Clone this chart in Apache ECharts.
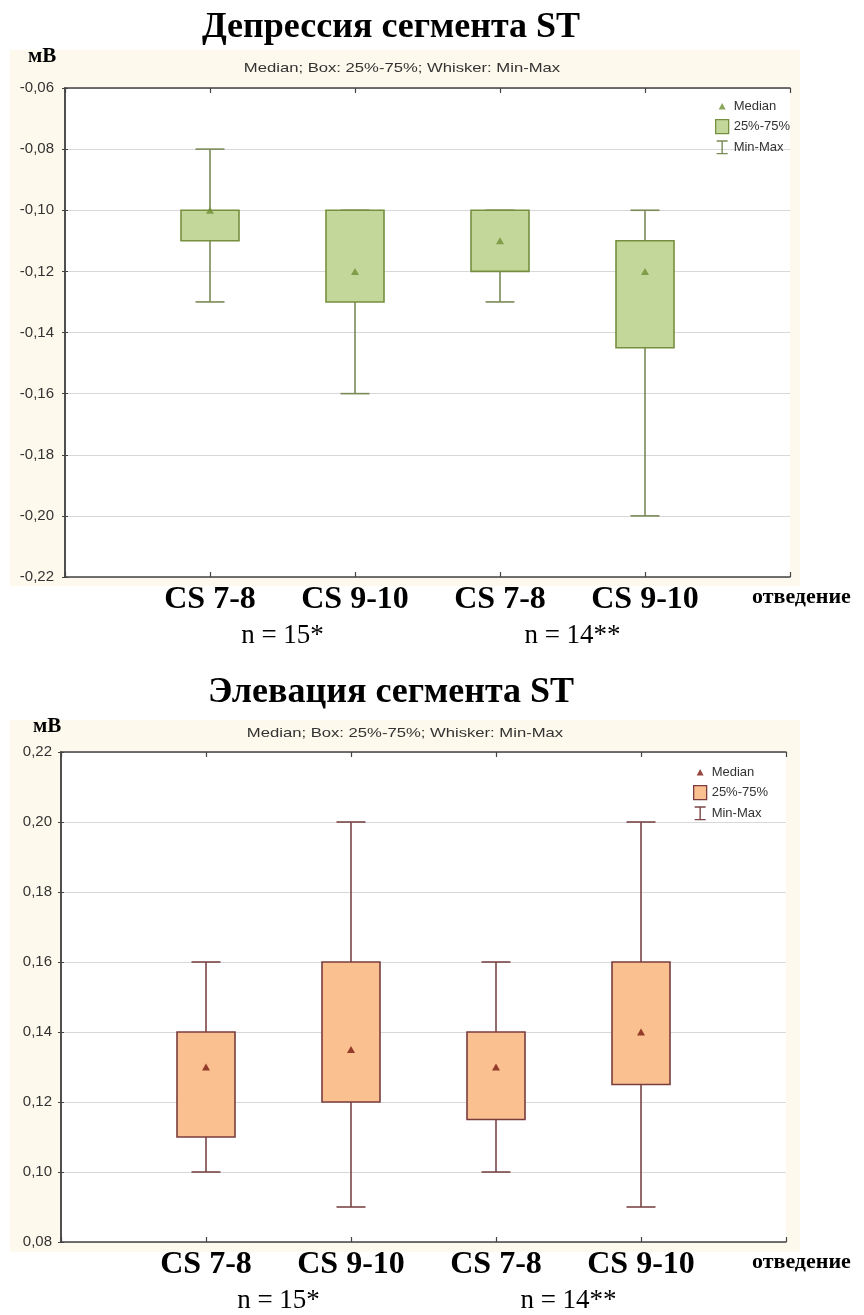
<!DOCTYPE html>
<html>
<head>
<meta charset="utf-8">
<script src="https://cdn.jsdelivr.net/npm/echarts@6/dist/echarts.min.js"></script>
<style>
  html, body { margin: 0; padding: 0; background: #fff; }
  #dep { position: absolute; left: 0; top: 0; width: 864px; height: 655px; }
  #elev { position: absolute; left: 0; top: 655px; width: 864px; height: 660px; }
</style>
</head>
<body>
<div id="dep"></div>
<div id="elev"></div>
<script>
// Leads (x-axis categories) and patient-group captions
const leads = ['CS 7-8', 'CS 9-10', 'CS 7-8', 'CS 9-10'];
const groupLabels = ['n = 15*', 'n = 14**'];

// ST depression, mV
const depMin    = [-0.13, -0.16, -0.13, -0.20];
const depQ1     = [-0.11, -0.13, -0.12, -0.145];
const depMedian = [-0.10, -0.12, -0.11, -0.12];
const depQ3     = [-0.10, -0.10, -0.10, -0.11];
const depMax    = [-0.08, -0.10, -0.10, -0.10];

// ST elevation, mV
const elevMin    = [0.10, 0.09, 0.10, 0.09];
const elevQ1     = [0.11, 0.12, 0.115, 0.125];
const elevMedian = [0.13, 0.135, 0.13, 0.14];
const elevQ3     = [0.14, 0.16, 0.14, 0.16];
const elevMax    = [0.16, 0.20, 0.16, 0.20];

const SERIF = '"Liberation Serif", "Times New Roman", serif';
const SANS = '"Liberation Sans", Arial, sans-serif';
const AXIS_COLOR = '#444444';

const triIcon = 'path://M0,0M13,14M3,10.5L6.5,4L10,10.5Z';
const ibeamIcon = 'path://M0,0M13,14M1,0H12V1.4H7.2V12.6H12V14H1V12.6H5.8V1.4H1Z';

function fmtY(v) { return v.toFixed(2).replace('.', ','); }

function buildOption(c) {
  const whiskers = c.min.map((v, i) => [i + 1, v, c.max[i]]);
  const boxes = c.q1.map((v, i) => [i + 1, v, c.q3[i]]);
  const medians = c.median.map((v, i) => [i + 1, v]);
  const g = c.grid;

  const xBase = {
    type: 'value', min: 0, max: 5, interval: 1, gridIndex: 0,
    splitLine: { show: false },
    axisLine: { show: true, lineStyle: { color: AXIS_COLOR, width: 1.5 } },
    axisTick: { show: true, inside: true, length: 5, lineStyle: { color: AXIS_COLOR, width: 1.2 } }
  };
  const yBase = {
    type: 'value', min: c.yMin, max: c.yMax, interval: 0.02, gridIndex: 0,
    axisLine: { show: true, lineStyle: { color: AXIS_COLOR, width: 1.5 } },
    axisTick: { show: true, inside: true, length: 3, lineStyle: { color: AXIS_COLOR } }
  };

  return {
    animation: false,
    grid: {
      left: g.left, top: g.top, width: g.width, height: g.height,
      show: true, backgroundColor: '#ffffff', borderWidth: 0
    },
    xAxis: [
      Object.assign({}, xBase, {
        position: 'bottom',
        axisLabel: {
          margin: 7, color: '#000', fontFamily: SERIF, fontWeight: 'bold', fontSize: 32,
          formatter: v => leads[v - 1] || ''
        }
      }),
      Object.assign({}, xBase, { position: 'top', axisLabel: { show: false } }),
      {
        type: 'value', min: 0, max: 5, interval: 0.5, gridIndex: 0,
        position: 'bottom', offset: 37,
        axisLine: { show: false }, axisTick: { show: false }, splitLine: { show: false },
        axisLabel: {
          margin: 8, color: '#000', fontFamily: SERIF, fontSize: 27,
          formatter: v => (v === 1.5 ? groupLabels[0] : v === 3.5 ? groupLabels[1] : '')
        }
      }
    ],
    yAxis: [
      Object.assign({}, yBase, {
        position: 'left',
        splitLine: { show: true, lineStyle: { color: '#d8d8d8', width: 1.2 } },
        axisLabel: { margin: c.yLabelMargin, color: '#333', fontFamily: SANS, fontSize: 15, formatter: fmtY }
      }),
      Object.assign({}, yBase, { position: 'right', splitLine: { show: false }, axisLabel: { show: false } })
    ],
    legend: {
      orient: 'vertical', left: c.legend.left, top: c.legend.top,
      itemWidth: 13, itemHeight: 14, itemGap: 6, selectedMode: false,
      textStyle: { fontFamily: SANS, fontSize: 13, color: '#333' },
      data: [
        { name: 'Median', icon: triIcon, itemStyle: { color: c.medianColor } },
        { name: '25%-75%', icon: 'rect', itemStyle: { color: c.fill, borderColor: c.stroke, borderWidth: 1.3 } },
        { name: 'Min-Max', icon: ibeamIcon, itemStyle: { color: c.whisker } }
      ]
    },
    graphic: [
      { type: 'rect', z: -5, shape: { x: 10, y: c.creamTop, width: 790, height: c.creamHeight },
        style: { fill: '#fdf9ec' } },
      { type: 'text', x: 391, y: c.titleY,
        style: { text: c.title, font: 'bold 36px ' + SERIF, fill: '#000', align: 'center', verticalAlign: 'middle' } },
      { type: 'text', x: c.unitX, y: c.unitY,
        style: { text: 'мВ', font: 'bold 21px ' + SERIF, fill: '#000', align: 'left', verticalAlign: 'middle' } },
      { type: 'text', x: c.subX, y: c.subY, scaleX: 1.28,
        style: { text: 'Median; Box: 25%-75%; Whisker: Min-Max', font: '13px ' + SANS, fill: '#333',
                 align: 'center', verticalAlign: 'middle' } },
      { type: 'text', x: 752, y: c.leadY,
        style: { text: 'отведение', font: 'bold 22px ' + SERIF, fill: '#000', align: 'left', verticalAlign: 'middle' } }
    ],
    series: [
      {
        name: 'Min-Max', type: 'custom', z: 2,
        xAxisIndex: 0, yAxisIndex: 0,
        itemStyle: { color: c.whisker },
        encode: { x: 0, y: [1, 2] },
        data: whiskers,
        renderItem: function (params, api) {
          const x = api.value(0);
          const lo = api.coord([x, api.value(1)]);
          const hi = api.coord([x, api.value(2)]);
          const half = api.size([0.2, 0])[0] / 2;
          const st = { stroke: c.whisker, lineWidth: 1.6 };
          return {
            type: 'group',
            children: [
              { type: 'line', shape: { x1: lo[0], y1: lo[1], x2: hi[0], y2: hi[1] }, style: st },
              { type: 'line', shape: { x1: lo[0] - half, y1: lo[1], x2: lo[0] + half, y2: lo[1] }, style: st },
              { type: 'line', shape: { x1: hi[0] - half, y1: hi[1], x2: hi[0] + half, y2: hi[1] }, style: st }
            ]
          };
        }
      },
      {
        name: '25%-75%', type: 'custom', z: 3,
        xAxisIndex: 0, yAxisIndex: 0,
        itemStyle: { color: c.fill, borderColor: c.stroke, borderWidth: 1.6 },
        encode: { x: 0, y: [1, 2] },
        data: boxes,
        renderItem: function (params, api) {
          const x = api.value(0);
          const a = api.coord([x, api.value(1)]);
          const b = api.coord([x, api.value(2)]);
          const w = api.size([0.4, 0])[0];
          return {
            type: 'rect',
            shape: { x: a[0] - w / 2, y: Math.min(a[1], b[1]), width: w, height: Math.abs(b[1] - a[1]) },
            style: { fill: c.fill, stroke: c.stroke, lineWidth: 1.6 }
          };
        }
      },
      {
        name: 'Median', type: 'scatter', z: 4,
        xAxisIndex: 0, yAxisIndex: 0,
        symbol: 'triangle', symbolSize: [8, 7],
        itemStyle: { color: c.medianColor },
        data: medians
      }
    ]
  };
}

const depChart = echarts.init(document.getElementById('dep'), null, { renderer: 'canvas' });
depChart.setOption(buildOption({
  title: 'Депрессия сегмента ST',
  min: depMin, q1: depQ1, median: depMedian, q3: depQ3, max: depMax,
  yMin: -0.22, yMax: -0.06,
  grid: { left: 65, top: 88, width: 725, height: 489 },
  legend: { left: 710, top: 94 },
  yLabelMargin: 11,
  creamTop: 50, creamHeight: 536,
  titleY: 28, unitX: 28, unitY: 57, subX: 402, subY: 68, leadY: 597,
  fill: '#c4d79b', stroke: '#76903f', whisker: '#7a8a57', medianColor: '#6f8f35'
}));

const elevChart = echarts.init(document.getElementById('elev'), null, { renderer: 'canvas' });
elevChart.setOption(buildOption({
  title: 'Элевация сегмента ST',
  min: elevMin, q1: elevQ1, median: elevMedian, q3: elevQ3, max: elevMax,
  yMin: 0.08, yMax: 0.22,
  grid: { left: 61, top: 97, width: 725, height: 490 },
  legend: { left: 688, top: 105 },
  yLabelMargin: 9,
  creamTop: 65, creamHeight: 532,
  titleY: 38, unitX: 33, unitY: 72, subX: 405, subY: 78, leadY: 607,
  fill: '#fac090', stroke: '#7a3c3c', whisker: '#7a4646', medianColor: '#7a1a10'
}));
</script>
</body>
</html>
